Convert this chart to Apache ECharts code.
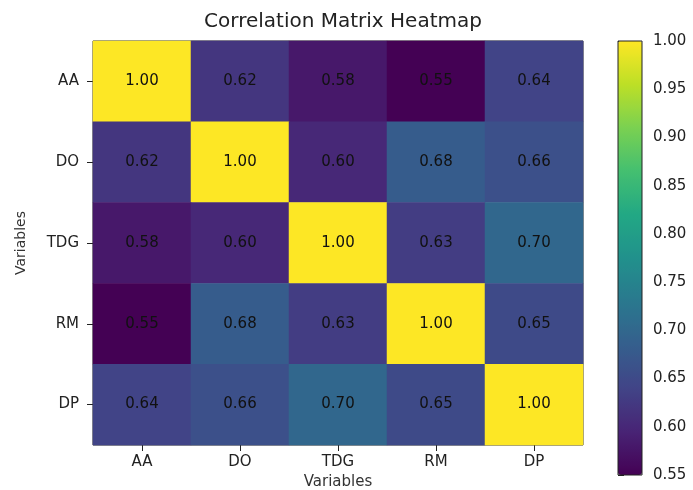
<!DOCTYPE html>
<html>
<head>
<meta charset="utf-8">
<script src="https://cdn.jsdelivr.net/npm/echarts@6/dist/echarts.min.js"></script>
<style>html,body{margin:0;padding:0;background:#fff}#c{width:693px;height:490px}</style>
</head>
<body>
<div id="c"></div>
<script>
var variables = ['AA', 'DO', 'TDG', 'RM', 'DP'];
var rowAA  = [1.00, 0.62, 0.58, 0.55, 0.64];
var rowDO  = [0.62, 1.00, 0.60, 0.68, 0.66];
var rowTDG = [0.58, 0.60, 1.00, 0.63, 0.70];
var rowRM  = [0.55, 0.68, 0.63, 1.00, 0.65];
var rowDP  = [0.64, 0.66, 0.70, 0.65, 1.00];
var colorbarMin = 0.55, colorbarMax = 1.00, colorbarStep = 0.05;

var rows = [rowAA, rowDO, rowTDG, rowRM, rowDP];
var data = [];
rows.forEach(function (r, i) { r.forEach(function (v, j) { data.push([j, i, v]); }); });

var viridis = ['#440154','#482475','#414487','#355f8d','#2a788e','#21918c','#22a884','#44bf70','#7ad151','#bddf26','#fde725'];
var font = 'DejaVu Sans';
var chart = echarts.init(document.getElementById('c'), null, {renderer: 'canvas'});
chart.setOption({
  animation: false,
  backgroundColor: '#fff',
  title: {
    text: 'Correlation Matrix Heatmap', left: 338, top: 7, textAlign: 'center',
    textStyle: {fontFamily: font, fontSize: 20, fontWeight: 'normal', color: '#222'}
  },
  grid: [
    {left: 93, top: 41, width: 490, height: 404, show: true, borderColor: '#222', borderWidth: 1, backgroundColor: 'transparent', containLabel: false, outerBoundsMode: 'none'},
    {left: 618, top: 41, width: 24, height: 434, show: true, borderColor: '#222', borderWidth: 1, backgroundColor: 'transparent', z: 10, containLabel: false, outerBoundsMode: 'none'}
  ],
  xAxis: [
    {type: 'category', data: variables, gridIndex: 0, name: 'Variables', nameLocation: 'middle', nameGap: 30,
     nameTextStyle: {fontFamily: font, fontSize: 15, color: '#333'},
     axisLine: {show: false}, axisTick: {show: true, alignWithLabel: true, length: 6, lineStyle: {color: '#222'}},
     axisLabel: {fontFamily: font, fontSize: 15, color: '#222', margin: 10}, splitLine: {show: false}},
    {type: 'value', gridIndex: 1, show: false, min: 0, max: 1}
  ],
  yAxis: [
    {type: 'category', data: variables, inverse: true, gridIndex: 0, name: 'Variables', nameLocation: 'middle', nameGap: 65,
     nameTextStyle: {fontFamily: font, fontSize: 14, color: '#333'},
     axisLine: {show: false}, axisTick: {show: true, alignWithLabel: true, length: 6, lineStyle: {color: '#222'}},
     axisLabel: {fontFamily: font, fontSize: 15, color: '#222', margin: 14}, splitLine: {show: false}},
    {type: 'value', gridIndex: 1, position: 'right', min: colorbarMin, max: colorbarMax, interval: colorbarStep,
     axisLine: {show: false}, axisTick: {show: true, length: 6, inside: false, lineStyle: {color: '#222'}},
     axisLabel: {fontFamily: font, fontSize: 15, color: '#222', margin: 11, formatter: function (v) { return v.toFixed(2); }},
     splitLine: {show: false}}
  ],
  visualMap: {
    type: 'continuous', min: colorbarMin, max: colorbarMax, calculable: false, orient: 'vertical',
    left: 618, top: 41, itemWidth: 24, itemHeight: 434, padding: 0, text: null, showLabel: false,
    inRange: {color: viridis}, seriesIndex: 0, hoverLink: false
  },
  series: [{
    type: 'heatmap', xAxisIndex: 0, yAxisIndex: 0, data: data,
    label: {show: true, fontFamily: font, fontSize: 15, color: '#111', formatter: function (p) { return p.value[2].toFixed(2); }},
    itemStyle: {borderWidth: 0}
  }]
});
</script>
</body>
</html>
